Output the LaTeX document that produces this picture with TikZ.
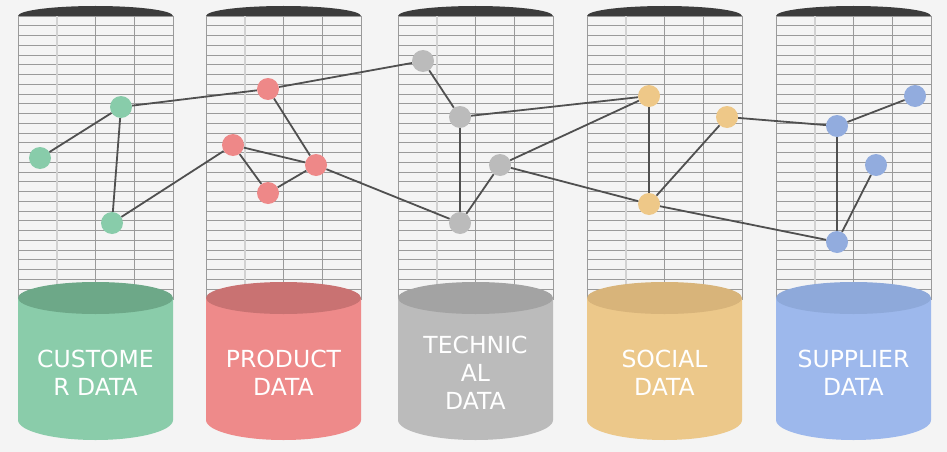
\documentclass[tikz,border=0pt]{standalone}
\usepackage{fontspec}
\setmainfont{DejaVu Sans}
\definecolor{bgcol}{HTML}{F4F4F4}
\definecolor{capcol}{HTML}{3C3C3C}
\definecolor{gridA}{HTML}{9A9A9A}
\definecolor{gridB}{HTML}{D2D2D2}
\definecolor{edgecol}{HTML}{505050}
\definecolor{grnB}{HTML}{8ACCAA}\definecolor{grnT}{HTML}{6DA888}
\definecolor{redB}{HTML}{EE8A8A}\definecolor{redT}{HTML}{C97272}
\definecolor{gryB}{HTML}{BBBBBB}\definecolor{gryT}{HTML}{A3A3A3}
\definecolor{orgB}{HTML}{ECC88A}\definecolor{orgT}{HTML}{D8B47A}
\definecolor{bluB}{HTML}{9DB8EC}\definecolor{bluT}{HTML}{8EA9DA}
\definecolor{grnN}{HTML}{88CCAA}
\definecolor{redN}{HTML}{EE8888}
\definecolor{gryN}{HTML}{BBBBBB}
\definecolor{orgN}{HTML}{EEC888}
\definecolor{bluN}{HTML}{92ACDE}
\newcommand{\dbcolumn}[5]{%
  % #1 left x, #2 body colour, #3 top colour, #4 text, #5 name
  \foreach \k in {0,...,29} {
    \draw[gridA, line width=0.8pt] (#1,16+9.75*\k) -- ++(155,0);
  }
  \draw[gridA, line width=0.8pt] (#1,16) -- (#1,300);
  \draw[gridB, line width=1.6pt] (#1+38.75,16) -- (#1+38.75,300);
  \draw[gridA, line width=0.8pt] (#1+77.5,16) -- (#1+77.5,300);
  \draw[gridA, line width=0.8pt] (#1+116.25,16) -- (#1+116.25,300);
  \draw[gridA, line width=0.8pt] (#1+155,16) -- (#1+155,300);
  \fill[capcol] (#1,16) arc[start angle=180, end angle=0, x radius=77.5pt, y radius=10pt] -- cycle;
  \fill[#2] (#1,298) -- (#1,420) arc[start angle=180, end angle=360, x radius=77.5pt, y radius=20pt] -- (#1+155,298) -- cycle;
  \fill[#3] (#1+77.5,298) ellipse[x radius=77.5, y radius=16];
  \node[dbtext] (#5) at (#1+77.5,373) {#4};
}
\begin{document}
\begin{tikzpicture}[x=1pt,y=-1pt,
  dbtext/.style={text=white, align=center, font=\fontsize{23.5}{28}\selectfont, inner sep=0pt},
  dot/.style={circle, minimum size=22pt, inner sep=0pt, draw=none},
  link/.style={draw=edgecol, line width=1.8pt}]
\fill[bgcol] (0,0) rectangle (947,452);
\useasboundingbox (0,0) rectangle (947,452);

\dbcolumn{18}{grnB}{grnT}{CUSTOME\\R DATA}{lab1}
\dbcolumn{206}{redB}{redT}{PRODUCT\\DATA}{lab2}
\dbcolumn{398}{gryB}{gryT}{TECHNIC\\AL\\DATA}{lab3}
\dbcolumn{587}{orgB}{orgT}{SOCIAL\\DATA}{lab4}
\dbcolumn{776}{bluB}{bluT}{SUPPLIER\\DATA}{lab5}

% nodes
\node[dot, fill=grnN] (g1) at (121,107) {};
\node[dot, fill=grnN] (g2) at (40,158) {};
\node[dot, fill=grnN] (g3) at (112,223) {};
\node[dot, fill=redN] (r1) at (268,89) {};
\node[dot, fill=redN] (r2) at (233,145) {};
\node[dot, fill=redN] (r3) at (316,165) {};
\node[dot, fill=redN] (r4) at (268,193) {};
\node[dot, fill=gryN] (t1) at (423,61) {};
\node[dot, fill=gryN] (t2) at (460,117) {};
\node[dot, fill=gryN] (t3) at (500,165) {};
\node[dot, fill=gryN] (t4) at (460,223) {};
\node[dot, fill=orgN] (o1) at (649,96) {};
\node[dot, fill=orgN] (o2) at (727,117) {};
\node[dot, fill=orgN] (o3) at (649,204) {};
\node[dot, fill=bluN] (b1) at (915,96) {};
\node[dot, fill=bluN] (b2) at (837,126) {};
\node[dot, fill=bluN] (b3) at (876,165) {};
\node[dot, fill=bluN] (b4) at (837,242) {};

% links
\foreach \a/\b in {g1/g2,g1/g3,g1/r1,g3/r2,r1/t1,r1/r3,r2/r3,r2/r4,r4/r3,r3/t4,
                   t1/t2,t2/t4,t2/o1,t3/t4,t3/o1,t3/o3,o1/o3,o3/o2,o3/b4,o2/b2,b2/b1,b2/b4,b3/b4}
  \path[link] (\a) -- (\b);
\end{tikzpicture}
\end{document}
